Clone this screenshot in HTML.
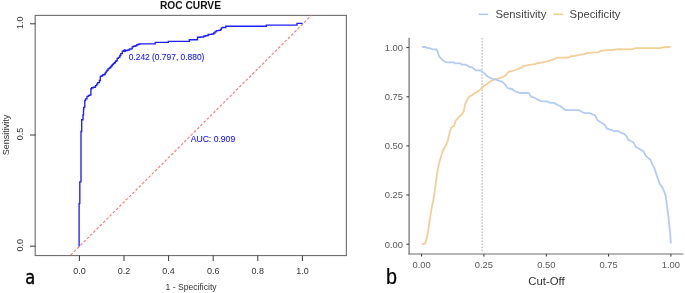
<!DOCTYPE html>
<html><head><meta charset="utf-8"><style>
html,body{margin:0;padding:0;background:#fff;}
body{width:685px;height:293px;overflow:hidden;}
svg{display:block;font-family:'Liberation Sans',Arial,sans-serif;filter:blur(0.35px);}
text{font-variant-ligatures:none;font-feature-settings:'liga' 0,'clig' 0;}
</style></head><body>
<svg width="685" height="293" viewBox="0 0 685 293">
<rect width="685" height="293" fill="#fff"/>
<rect x="35.2" y="15.4" width="311.2" height="240.15" fill="none" stroke="#717171" stroke-width="1.15"/>
<line x1="30" y1="23.8" x2="35.5" y2="23.8" stroke="#3a3a3a" stroke-width="1"/>
<text transform="translate(23.4,22.8) rotate(-90) scale(1,1.08)" text-anchor="middle" font-size="9" fill="#333">1.0</text>
<line x1="30" y1="135.0" x2="35.5" y2="135.0" stroke="#3a3a3a" stroke-width="1"/>
<text transform="translate(23.4,134.0) rotate(-90) scale(1,1.08)" text-anchor="middle" font-size="9" fill="#333">0.5</text>
<line x1="30" y1="246.2" x2="35.5" y2="246.2" stroke="#3a3a3a" stroke-width="1"/>
<text transform="translate(23.4,245.2) rotate(-90) scale(1,1.08)" text-anchor="middle" font-size="9" fill="#333">0.0</text>
<line x1="79.4" y1="255.5" x2="79.4" y2="261" stroke="#3a3a3a" stroke-width="1"/>
<text transform="translate(79.4,274.4) scale(1,1.08)" text-anchor="middle" font-size="9" fill="#333">0.0</text>
<line x1="124.0" y1="255.5" x2="124.0" y2="261" stroke="#3a3a3a" stroke-width="1"/>
<text transform="translate(124.0,274.4) scale(1,1.08)" text-anchor="middle" font-size="9" fill="#333">0.2</text>
<line x1="168.6" y1="255.5" x2="168.6" y2="261" stroke="#3a3a3a" stroke-width="1"/>
<text transform="translate(168.6,274.4) scale(1,1.08)" text-anchor="middle" font-size="9" fill="#333">0.4</text>
<line x1="213.2" y1="255.5" x2="213.2" y2="261" stroke="#3a3a3a" stroke-width="1"/>
<text transform="translate(213.2,274.4) scale(1,1.08)" text-anchor="middle" font-size="9" fill="#333">0.6</text>
<line x1="257.8" y1="255.5" x2="257.8" y2="261" stroke="#3a3a3a" stroke-width="1"/>
<text transform="translate(257.8,274.4) scale(1,1.08)" text-anchor="middle" font-size="9" fill="#333">0.8</text>
<line x1="302.4" y1="255.5" x2="302.4" y2="261" stroke="#3a3a3a" stroke-width="1"/>
<text transform="translate(302.4,274.4) scale(1,1.08)" text-anchor="middle" font-size="9" fill="#333">1.0</text>
<text x="191.1" y="289.5" text-anchor="middle" font-size="8.6" fill="#333">1 - Specificity</text>
<text transform="translate(8.8,135.1) rotate(-90)" text-anchor="middle" font-size="9" fill="#333">Sensitivity</text>
<text x="190.5" y="9.2" text-anchor="middle" font-size="10.2" font-weight="bold" fill="#111">ROC CURVE</text>
<clipPath id="cl"><rect x="35.5" y="15.5" width="311" height="240"/></clipPath>
<line clip-path="url(#cl)" x1="60" y1="265.8" x2="320" y2="6.8" stroke="#ff7676" stroke-width="1.15" stroke-dasharray="2.7 1.876" stroke-dashoffset="3.134"/>
<polyline points="79.1,246.4 79.1,203.6 79.8,203.6 79.8,181.8 81.0,181.8 81.0,131.5 81.7,131.5 81.7,119.7 83.0,119.7 83.0,115.0 83.5,115.0 83.5,110.0 83.7,110.0 83.7,107.6 83.9,107.6 84.3,107.6 84.3,107.1 84.7,107.1 84.8,107.1 84.8,100.5 85.0,100.5 85.6,100.5 85.6,98.9 86.2,98.9 87.0,98.9 87.0,96.4 87.7,96.4 88.5,96.4 88.5,95.4 89.3,95.4 90.0,95.4 90.0,94.8 90.8,94.8 90.9,94.8 90.9,88.7 91.1,88.7 91.7,88.7 91.7,87.7 92.3,87.7 93.3,87.7 93.3,87.2 94.4,87.2 95.4,87.2 95.4,85.6 96.4,85.6 96.7,85.6 96.7,84.1 96.9,84.1 97.7,84.1 97.7,82.6 98.5,82.6 99.4,82.6 99.4,80.5 100.3,80.5 100.3,76.4 101.2,76.4 101.2,76.0 102.0,76.0 102.5,76.0 102.5,75.0 103.1,75.0 103.6,75.0 103.6,74.7 104.1,74.7 104.6,74.7 104.6,74.0 105.1,74.0 105.4,74.0 105.4,72.6 105.8,72.6 106.2,72.6 106.2,71.3 106.5,71.3 107.0,71.3 107.0,70.2 107.5,70.2 108.0,70.2 108.0,68.9 108.5,68.9 109.0,68.9 109.0,68.2 109.6,68.2 109.9,68.2 109.9,67.5 110.2,67.5 110.8,67.5 110.8,66.5 111.3,66.5 111.6,66.5 111.6,65.5 111.9,65.5 112.5,65.5 112.5,64.4 113.0,64.4 113.5,64.4 113.5,63.4 114.0,63.4 114.5,63.4 114.5,62.7 115.0,62.7 115.3,62.7 115.3,61.4 115.7,61.4 116.2,61.4 116.2,60.7 116.7,60.7 117.2,60.7 117.2,58.3 117.6,58.3 118.4,58.3 118.4,57.4 119.2,57.4 119.8,57.4 119.8,55.5 120.3,55.5 120.8,55.5 120.8,53.6 121.3,53.6 122.3,53.6 122.3,51.2 123.3,51.2 124.0,51.2 124.0,50.7 124.7,50.7 125.7,50.7 125.7,50.5 126.6,50.5 127.8,50.5 127.8,50.0 129.0,50.0 129.5,50.0 129.5,49.0 130.0,49.0 131.0,49.0 131.0,48.8 132.0,48.8 132.2,48.8 132.2,46.8 132.4,46.8 133.4,46.8 133.4,46.2 134.4,46.2 135.2,46.2 135.2,45.7 136.0,45.7 136.8,45.7 136.8,44.7 137.5,44.7 138.2,44.7 138.2,44.2 139.0,44.2 139.8,44.2 139.8,43.9 140.6,43.9 155.2,43.9 155.2,42.4 168.3,42.4 168.3,41.3 189.3,41.3 189.4,41.3 189.4,39.7 189.5,39.7 197.4,39.7 197.5,39.7 197.5,37.2 197.6,37.2 200.3,37.2 200.3,37.0 203.0,37.0 203.7,37.0 203.7,36.2 204.4,36.2 205.1,36.2 205.1,35.7 205.7,35.7 206.8,35.7 206.8,35.5 207.8,35.5 208.2,35.5 208.2,34.5 208.5,34.5 209.5,34.5 209.5,34.3 210.5,34.3 211.8,34.3 211.8,34.0 213.2,34.0 213.7,34.0 213.7,33.0 214.2,33.0 214.9,33.0 214.9,31.9 215.6,31.9 216.1,31.9 216.1,30.9 216.6,30.9 217.1,30.9 217.1,30.6 217.7,30.6 218.7,30.6 218.7,30.4 219.7,30.4 220.4,30.4 220.4,29.5 221.1,29.5 221.4,29.5 221.4,27.8 221.7,27.8 222.4,27.8 222.4,27.5 223.1,27.5 225.2,27.5 225.8,27.5 225.8,26.2 226.5,26.2 266.2,26.2 266.3,26.2 266.3,25.1 266.4,25.1 296.9,25.1 297.0,25.1 297.0,23.4 297.1,23.4 302.6,23.4" fill="none" stroke="#1f1fff" stroke-width="1.35" stroke-linejoin="miter"/>
<circle cx="124.7" cy="50.7" r="1.45" fill="#1f1fff"/>
<text transform="translate(128.7,59.9) scale(1,1.08)" font-size="9.2" fill="#1010ff" stroke="#1010ff" stroke-width="0.08" textLength="75.7" lengthAdjust="spacingAndGlyphs">0.242 (0.797, 0.880)</text>
<text transform="translate(190.7,142.4) scale(1,1.08)" font-size="9.2" fill="#1010ff" stroke="#1010ff" stroke-width="0.08" textLength="44.5" lengthAdjust="spacingAndGlyphs">AUC: 0.909</text>
<text transform="translate(25.2,284.1) scale(0.86,1)" font-size="19" font-family="DejaVu Sans,Liberation Sans,sans-serif" fill="#000" stroke="#000" stroke-width="0.45">a</text>
<line x1="409.1" y1="37.8" x2="409.1" y2="254.6" stroke="#6f6f6f" stroke-width="1.2"/>
<line x1="408.5" y1="254" x2="683.4" y2="254" stroke="#6f6f6f" stroke-width="1.2"/>
<line x1="406.4" y1="244.2" x2="409" y2="244.2" stroke="#333" stroke-width="1"/>
<text transform="translate(403,247.6) scale(1,1.04)" text-anchor="end" font-size="9.4" fill="#5a5a5a">0.00</text>
<line x1="421.6" y1="254" x2="421.6" y2="256.6" stroke="#333" stroke-width="1"/>
<text transform="translate(421.6,267.7) scale(1,1.04)" text-anchor="middle" font-size="9.4" fill="#5a5a5a">0.00</text>
<line x1="406.4" y1="195.0" x2="409" y2="195.0" stroke="#333" stroke-width="1"/>
<text transform="translate(403,198.4) scale(1,1.04)" text-anchor="end" font-size="9.4" fill="#5a5a5a">0.25</text>
<line x1="483.9" y1="254" x2="483.9" y2="256.6" stroke="#333" stroke-width="1"/>
<text transform="translate(483.9,267.7) scale(1,1.04)" text-anchor="middle" font-size="9.4" fill="#5a5a5a">0.25</text>
<line x1="406.4" y1="145.9" x2="409" y2="145.9" stroke="#333" stroke-width="1"/>
<text transform="translate(403,149.3) scale(1,1.04)" text-anchor="end" font-size="9.4" fill="#5a5a5a">0.50</text>
<line x1="546.3" y1="254" x2="546.3" y2="256.6" stroke="#333" stroke-width="1"/>
<text transform="translate(546.3,267.7) scale(1,1.04)" text-anchor="middle" font-size="9.4" fill="#5a5a5a">0.50</text>
<line x1="406.4" y1="96.8" x2="409" y2="96.8" stroke="#333" stroke-width="1"/>
<text transform="translate(403,100.2) scale(1,1.04)" text-anchor="end" font-size="9.4" fill="#5a5a5a">0.75</text>
<line x1="608.6" y1="254" x2="608.6" y2="256.6" stroke="#333" stroke-width="1"/>
<text transform="translate(608.6,267.7) scale(1,1.04)" text-anchor="middle" font-size="9.4" fill="#5a5a5a">0.75</text>
<line x1="406.4" y1="47.6" x2="409" y2="47.6" stroke="#333" stroke-width="1"/>
<text transform="translate(403,51.0) scale(1,1.04)" text-anchor="end" font-size="9.4" fill="#5a5a5a">1.00</text>
<line x1="670.9" y1="254" x2="670.9" y2="256.6" stroke="#333" stroke-width="1"/>
<text transform="translate(670.9,267.7) scale(1,1.04)" text-anchor="middle" font-size="9.4" fill="#5a5a5a">1.00</text>
<text x="546.5" y="285.1" text-anchor="middle" font-size="11.4" fill="#333">Cut-Off</text>
<line x1="482.1" y1="37.95" x2="482.1" y2="253" stroke="#a8a8a8" stroke-width="1" stroke-dasharray="1.5 1.524"/>
<polyline points="421.9,244.2 425.0,243.5 426.1,240.4 427.0,236.5 428.1,231.2 429.2,223.5 430.1,217.3 431.2,211.2 432.2,205.0 433.5,199.2 434.9,189.9 436.1,180.5 437.3,171.9 438.7,165.1 440.0,160.0 441.1,156.4 442.5,151.6 444.5,147.5 446.6,144.1 448.0,140.0 448.6,137.0 449.6,132.6 451.2,128.0 452.7,126.5 454.3,126.0 454.8,123.4 455.8,120.3 457.3,118.8 459.4,116.7 460.9,115.2 462.5,113.6 463.5,111.6 464.5,108.0 464.8,105.0 466.1,101.9 467.7,98.8 469.2,96.5 472.3,95.0 475.3,92.7 478.4,91.1 481.5,88.3 484.0,85.6 486.6,84.4 489.2,82.3 492.2,80.3 495.3,79.0 498.4,78.7 500.9,77.7 503.5,76.5 505.5,75.7 507.1,73.6 508.6,71.9 511.7,71.1 515.8,70.0 518.3,69.0 520.0,67.9 521.7,67.5 523.8,65.8 526.8,65.4 531.1,64.7 534.9,64.1 537.9,63.0 541.3,62.6 544.7,61.9 548.2,61.1 551.6,60.1 554.1,59.0 556.7,57.7 568.7,57.7 570.3,56.5 575.1,55.8 579.1,54.9 583.9,54.2 587.1,53.2 591.1,52.6 598.4,52.3 600.4,51.0 604.8,50.4 606.4,50.1 611.1,50.1 618.3,49.2 631.6,49.4 635.7,48.2 660.2,48.2 663.2,47.4 667.3,47.0 670.4,47.0" fill="none" stroke="#f2cf98" stroke-width="1.8" stroke-linejoin="round"/>
<polyline points="422.1,47.0 425.7,47.0 426.7,47.7 428.2,48.2 430.3,48.2 431.3,49.0 432.3,49.4 436.4,49.4 437.5,50.8 438.0,53.3 439.0,55.9 440.0,57.4 441.5,58.9 443.1,60.5 444.6,61.5 446.5,62.4 453.7,62.4 455.2,63.4 460.4,63.4 462.4,64.7 466.0,64.7 468.0,66.1 469.6,67.1 472.1,67.1 473.7,68.8 475.7,70.4 480.8,70.4 482.4,71.9 484.4,73.4 486.1,75.2 488.1,76.7 490.7,78.2 493.3,79.0 496.3,79.8 499.4,80.8 501.4,81.3 504.0,83.3 506.0,85.9 507.6,88.0 509.1,88.5 512.2,89.0 513.7,90.5 515.8,91.5 518.8,92.6 521.5,93.0 528.7,93.0 530.2,95.2 531.3,96.8 533.3,97.3 535.3,98.3 537.9,99.6 540.5,100.9 542.0,101.4 547.1,101.4 549.2,102.4 550.7,102.9 553.8,102.9 555.8,103.9 558.4,105.3 560.0,106.0 562.6,108.0 565.2,110.1 578.5,110.1 580.5,111.0 582.6,112.3 585.6,113.1 589.7,113.1 591.8,114.1 594.3,114.8 595.9,116.9 596.9,119.4 598.1,120.6 600.6,122.2 603.2,123.7 605.2,125.7 606.8,128.3 609.3,129.3 611.9,130.1 614.4,131.2 618.5,131.2 620.6,132.6 624.2,133.9 626.7,136.5 628.2,139.6 630.3,140.8 633.4,142.4 636.1,147.3 639.5,148.9 643.6,151.6 645.7,155.7 648.4,158.2 650.5,159.8 652.5,164.6 654.6,168.7 655.9,172.8 657.3,176.9 658.2,179.5 659.5,183.6 662.3,187.1 664.3,191.8 665.7,195.9 666.4,201.4 667.5,209.6 668.1,214.2 668.8,220.4 669.6,228.1 670.4,235.8 670.8,243.5" fill="none" stroke="#b4ccf2" stroke-width="1.8" stroke-linejoin="round"/>
<line x1="478.7" y1="14.35" x2="488.2" y2="14.35" stroke="#a9c4ef" stroke-width="1.5"/>
<text x="495.5" y="18.4" font-size="11.3" fill="#444">Sensitivity</text>
<line x1="553.4" y1="14.3" x2="563" y2="14.3" stroke="#f3cd90" stroke-width="1.5"/>
<text x="569.6" y="18.4" font-size="11.3" fill="#444">Specificity</text>
<text transform="translate(386.1,284.2) scale(0.9,1)" font-size="22" fill="#000" stroke="#000" stroke-width="0.25">b</text>
</svg>
</body></html>
